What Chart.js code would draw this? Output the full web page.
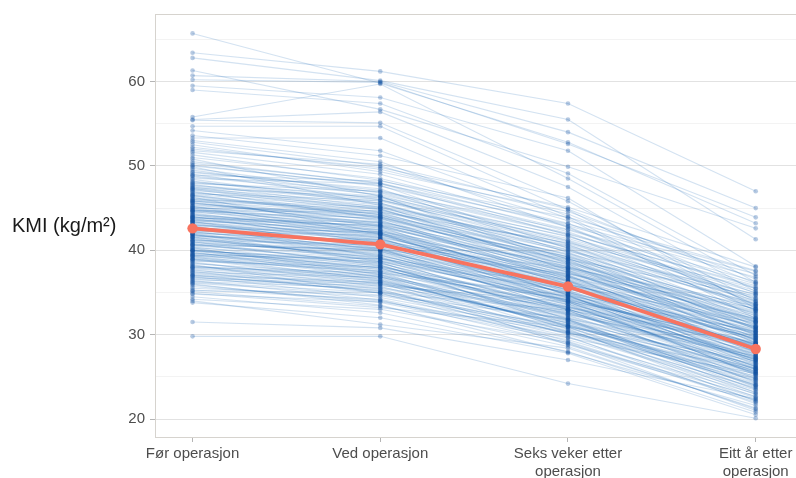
<!DOCTYPE html>
<html>
<head>
<meta charset="utf-8">
<script src="https://cdn.jsdelivr.net/npm/chart.js@4/dist/chart.umd.min.js"></script>
<style>
  html, body { margin: 0; padding: 0; background: #ffffff; overflow: hidden; width: 796px; height: 478px; }
  #wrap { position: relative; width: 840px; height: 478px; }
</style>
</head>
<body>
<div id="wrap"><canvas id="kmiChart" width="840" height="478"></canvas></div>
<script>
// Time points along the x axis
const timeLabels = [
  ["Før operasjon"],
  ["Ved operasjon"],
  ["Seks veker etter", "operasjon"],
  ["Eitt år etter", "operasjon"]
];

// Y axis: labelled ticks and the lighter in-between grid lines
const yMajorTicks = [20, 30, 40, 50, 60];
const yMinorTicks = [25, 35, 45, 55, 65];
const yAxisTitle = "KMI (kg/m²)";

// Group mean BMI at each time point
const meanKmi = [42.6, 40.7, 35.7, 28.3];

// Individual patients' BMI, one value per patient at each time point
const kmiFor = [
  65.7, 63.4, 62.8, 61.3, 60.7, 60.2, 59.5, 59.0, 55.8, 55.5,
  55.4, 54.7, 53.3, 54.2, 53.6, 53.0, 31.5, 29.8, 33.8, 34.0,
  34.2, 34.8, 35.1, 35.5, 35.9, 36.2, 36.4, 36.8, 37.0, 37.3,
  37.5, 37.8, 38.0, 38.2, 38.4, 38.6, 38.8, 39.0, 39.1, 39.3,
  39.5, 39.6, 39.8, 40.0, 40.1, 40.3, 40.4, 40.6, 40.7, 40.9,
  41.0, 41.2, 41.3, 41.5, 41.6, 41.8, 41.9, 42.1, 42.2, 42.4,
  42.5, 42.7, 42.8, 43.0, 43.1, 43.3, 43.4, 43.6, 43.7, 43.9,
  44.0, 44.2, 44.3, 44.5, 44.6, 44.8, 44.9, 45.1, 45.2, 45.4,
  45.6, 45.8, 46.0, 46.2, 46.4, 46.6, 46.9, 47.1, 47.3, 47.6,
  47.8, 48.1, 48.4, 48.7, 49.0, 49.3, 49.7, 50.1, 50.5, 51.0,
  51.6, 52.2, 52.8, 34.5, 35.3, 36.0, 36.6, 37.2, 37.7, 38.1,
  38.5, 38.9, 39.2, 39.4, 39.7, 39.9, 40.2, 40.5, 40.8, 41.1,
  41.4, 41.7, 42.0, 42.3, 42.6, 42.9, 43.2, 43.5, 43.8, 44.1,
  44.4, 44.7, 45.0, 45.3, 45.7, 46.1, 46.5, 46.8, 47.2, 47.7,
  48.2, 48.8, 49.5, 50.3, 51.3, 52.5, 40.0, 41.5, 43.0, 44.0,
  37.9, 36.9, 45.5, 47.5, 42.0, 39.0,
  36.5, 38.3, 40.6, 42.9, 44.7, 46.3, 48.5, 50.8, 35.2, 37.6,
  39.4, 41.9, 43.6, 45.9, 47.9, 49.9, 36.1, 38.7, 40.3, 42.6,
  44.2, 46.7, 49.2, 51.8, 34.9, 37.4, 39.9, 41.2, 43.4, 45.0,
  47.0, 48.9, 35.7, 37.1, 39.6, 41.8, 43.9, 45.6, 47.4, 50.0,
  36.3, 38.0, 40.0, 42.3, 44.8, 46.0, 48.0, 52.0, 39.3, 41.6,
  43.3, 44.6, 46.5, 37.0, 38.9, 40.7, 42.2, 43.8, 45.2, 47.3,
  36.7, 41.0, 43.5, 45.8
];
const kmiVed = [
  59.8, 61.2, 60.1, 56.7, 60.0, 59.9, 58.1, 57.4, 59.7, 56.4,
  55.1, 54.7, 53.3, 51.8, 51.2, 50.5, 30.8, 29.8, 32.0, 31.2,
  33.0, 33.9, 33.4, 34.6, 33.8, 35.0, 34.1, 35.6, 35.2, 36.1,
  34.9, 36.4, 36.9, 35.7, 37.1, 36.0, 37.5, 36.6, 37.8, 38.0,
  37.2, 38.4, 36.8, 38.6, 37.9, 39.0, 38.1, 39.3, 38.5, 39.6,
  38.2, 39.8, 39.1, 40.2, 38.8, 40.5, 39.4, 40.8, 39.9, 41.0,
  40.1, 41.3, 40.4, 41.6, 40.7, 41.9, 41.1, 42.2, 41.4, 42.5,
  41.7, 42.8, 42.0, 43.1, 42.3, 43.4, 42.6, 43.7, 42.9, 44.0,
  43.2, 44.3, 43.5, 44.6, 43.9, 45.0, 44.2, 45.4, 44.8, 45.8,
  45.1, 46.2, 45.6, 46.6, 46.0, 47.1, 46.8, 47.6, 47.9, 48.5,
  49.0, 49.6, 50.0, 32.6, 34.2, 33.5, 35.3, 35.9, 35.4, 37.0,
  36.3, 37.6, 36.5, 38.2, 37.4, 38.9, 37.7, 39.2, 38.3, 39.7,
  38.7, 40.3, 39.5, 40.9, 40.0, 41.5, 40.6, 42.1, 41.2, 42.7,
  41.8, 43.3, 42.4, 43.9, 43.0, 44.4, 44.0, 45.2, 44.5, 46.0,
  45.5, 46.9, 46.5, 48.0, 48.3, 49.3, 37.5, 39.0, 42.0, 40.9,
  36.7, 34.4, 44.1, 44.9, 41.2, 37.3,
  35.8, 34.9, 40.1, 39.2, 44.5, 42.1, 47.9, 46.4, 35.0, 36.2,
  39.0, 38.6, 43.0, 42.8, 47.0, 45.3, 34.7, 38.0, 37.1, 42.2,
  41.5, 45.9, 47.3, 50.2, 33.2, 36.8, 37.9, 40.6, 40.2, 44.7,
  43.8, 48.2, 34.0, 35.1, 38.7, 39.9, 42.9, 43.6, 46.3, 47.7,
  35.5, 37.3, 38.5, 41.8, 42.0, 45.1, 46.4, 49.8, 36.9, 41.3,
  41.0, 43.8, 44.2, 36.2, 36.4, 40.0, 40.2, 43.3, 41.9, 45.6,
  36.0, 39.4, 42.4, 44.9
];
const kmiSeksVeker = [
  52.8, 57.4, 55.5, 49.9, 54.0, 52.6, 51.8, 49.1, 48.5, 47.5,
  45.8, 44.8, 44.0, 43.8, 46.2, 42.7, 27.0, 24.2, 27.8, 28.4,
  29.1, 30.2, 28.6, 31.0, 29.4, 30.8, 28.9, 31.7, 30.1, 32.4,
  29.8, 31.2, 33.0, 30.5, 32.1, 31.4, 33.6, 30.9, 32.8, 34.1,
  31.6, 33.3, 32.0, 34.5, 31.9, 33.8, 32.6, 35.0, 33.1, 34.3,
  32.3, 35.4, 33.9, 34.8, 32.9, 36.0, 34.0, 35.2, 34.6, 36.3,
  33.7, 35.8, 34.9, 36.7, 35.1, 36.1, 35.5, 37.2, 34.7, 36.9,
  35.9, 37.6, 36.4, 38.0, 36.0, 37.9, 36.8, 38.5, 37.0, 38.8,
  37.4, 39.2, 37.7, 39.5, 38.3, 40.1, 38.6, 40.4, 39.0, 40.8,
  39.4, 41.2, 40.0, 41.6, 40.3, 42.0, 41.1, 42.5, 41.8, 43.2,
  42.9, 44.3, 43.5, 28.0, 29.7, 27.9, 30.4, 31.8, 29.2, 31.5,
  30.0, 34.2, 31.1, 32.7, 30.6, 34.0, 33.4, 33.6, 31.3, 34.4,
  33.2, 35.6, 33.5, 36.5, 34.5, 37.0, 34.1, 36.2, 35.3, 38.1,
  35.7, 37.3, 36.6, 39.0, 37.1, 38.7, 37.8, 40.6, 38.2, 41.0,
  39.8, 41.9, 40.7, 42.2, 42.8, 44.6, 32.2, 35.0, 37.5, 34.8,
  31.0, 30.3, 39.6, 39.1, 36.8, 33.2,
  33.9, 29.0, 37.2, 31.8, 40.9, 34.6, 43.1, 38.4, 32.9, 28.8,
  35.9, 30.9, 38.9, 35.2, 42.4, 37.6, 31.9, 33.0, 30.7, 38.4,
  33.9, 41.4, 39.7, 44.9, 30.9, 32.5, 31.7, 37.9, 32.9, 39.9,
  36.5, 43.9, 29.6, 30.2, 35.4, 33.0, 37.8, 36.3, 41.7, 40.2,
  31.4, 34.6, 32.4, 36.9, 35.0, 40.5, 38.9, 45.1, 30.3, 36.4,
  34.3, 38.6, 37.4, 32.6, 31.1, 35.6, 33.8, 39.3, 34.7, 39.2,
  33.3, 34.1, 36.0, 38.0
];
const kmiEittAar = [
  43.2, 47.0, 41.3, 42.6, 45.0, 43.9, 38.1, 37.0, 36.2, 35.1,
  34.0, 33.4, 32.8, 31.9, 33.1, 33.6, 22.4, 20.1, 20.5, 21.3,
  22.0, 24.6, 21.2, 25.3, 23.0, 24.1, 22.7, 26.0, 23.4, 27.2,
  21.8, 24.9, 27.8, 23.6, 25.7, 24.2, 28.4, 22.9, 26.3, 29.0,
  24.5, 27.5, 25.0, 28.1, 23.8, 26.8, 25.9, 29.6, 24.4, 27.0,
  25.5, 30.2, 26.6, 28.7, 24.8, 30.6, 27.3, 28.9, 26.9, 31.0,
  25.6, 29.3, 27.7, 30.4, 26.4, 29.8, 28.0, 31.5, 25.8, 30.0,
  28.5, 31.8, 27.4, 32.3, 28.8, 30.9, 29.1, 32.6, 28.2, 31.2,
  30.3, 33.0, 29.4, 32.0, 30.7, 33.5, 29.9, 33.2, 31.4, 34.3,
  30.8, 34.7, 32.4, 35.2, 31.7, 35.6, 33.8, 36.3, 32.9, 34.9,
  36.8, 35.4, 37.5, 20.8, 22.5, 21.6, 25.1, 24.0, 22.2, 26.5,
  23.2, 28.6, 24.7, 26.1, 22.6, 27.9, 26.2, 25.4, 23.9, 28.3,
  27.1, 29.5, 26.0, 30.1, 28.6, 31.3, 25.2, 29.2, 27.6, 32.1,
  26.7, 30.5, 29.7, 32.8, 28.1, 31.1, 30.2, 34.0, 29.3, 33.3,
  31.6, 35.8, 32.2, 34.4, 33.9, 36.6, 25.7, 29.9, 30.8, 27.2,
  25.5, 23.7, 33.7, 30.0, 31.9, 28.8,
  29.8, 21.0, 33.1, 23.5, 35.5, 26.2, 37.2, 29.0, 28.9, 22.3,
  31.4, 24.0, 34.6, 27.0, 36.0, 28.7, 27.5, 26.6, 22.1, 32.5,
  25.3, 35.0, 30.6, 36.1, 26.9, 27.4, 23.1, 33.4, 24.3, 34.8,
  27.9, 37.6, 25.4, 25.9, 30.3, 26.3, 31.9, 28.4, 34.2, 31.0,
  25.6, 30.4, 27.7, 30.9, 27.3, 33.6, 29.6, 38.0, 24.8, 29.4,
  28.9, 32.7, 30.7, 28.1, 26.0, 28.6, 27.1, 33.0, 26.8, 31.5,
  29.0, 29.1, 29.5, 31.6
];

const columns = [kmiFor, kmiVed, kmiSeksVeker, kmiEittAar];

const patientLine = 'rgba(22, 102, 178, 0.19)';
const patientPoint = 'rgba(16, 78, 158, 0.3)';
const meanColour = '#f8735f';
const fontFamily = '"Liberation Sans", Arial, Helvetica, sans-serif';

const patientDatasets = kmiFor.map((_, p) => ({
  data: columns.map((col, t) => ({ x: t + 1, y: col[p] })),
  borderColor: patientLine,
  borderWidth: 1.1,
  backgroundColor: patientPoint,
  pointBackgroundColor: patientPoint,
  pointBorderWidth: 0,
  pointRadius: 2.3,
  order: 2
}));

const meanDataset = {
  data: meanKmi.map((v, t) => ({ x: t + 1, y: v })),
  borderColor: meanColour,
  borderWidth: 3.8,
  pointBackgroundColor: meanColour,
  pointBorderWidth: 0,
  pointRadius: 5.2,
  order: 0
};

// Frame round the plotting panel and the horizontal y-axis title
const panelDecor = {
  id: 'panelDecor',
  afterDraw(chart) {
    const { ctx, chartArea } = chart;
    ctx.save();
    ctx.strokeStyle = '#d6d3ce';
    ctx.lineWidth = 1;
    ctx.strokeRect(chartArea.left + 0.5, chartArea.top + 0.5,
                   chartArea.right - chartArea.left, chartArea.bottom - chartArea.top);
    ctx.fillStyle = '#1a1a1a';
    ctx.font = '20px ' + fontFamily;
    ctx.textAlign = 'left';
    ctx.textBaseline = 'middle';
    ctx.fillText(yAxisTitle, 12, (chartArea.top + chartArea.bottom) / 2 + 1);
    ctx.restore();
  }
};

new Chart(document.getElementById('kmiChart'), {
  type: 'line',
  data: { datasets: [meanDataset, ...patientDatasets] },
  options: {
    responsive: false,
    animation: false,
    devicePixelRatio: 1,
    events: [],
    layout: { padding: { top: 13, right: 43, bottom: 0, left: 0 } },
    plugins: { legend: { display: false }, tooltip: { enabled: false } },
    elements: { line: { tension: 0 } },
    scales: {
      x: {
        type: 'linear',
        min: 0.8,
        max: 4.22,
        afterBuildTicks: s => { s.ticks = timeLabels.map((_, i) => ({ value: i + 1 })); },
        afterFit: s => { s.height = 41; },
        border: { display: false },
        grid: { drawOnChartArea: false, drawTicks: true, tickLength: 5, color: '#b5b5b5' },
        ticks: {
          callback: v => timeLabels[v - 1],
          autoSkip: false,
          maxRotation: 0,
          padding: 3,
          color: '#4d4d4d',
          font: { family: fontFamily, size: 15, lineHeight: 1.2 }
        }
      },
      y: {
        type: 'linear',
        min: 17.87,
        max: 68.0,
        afterBuildTicks: s => {
          s.ticks = [...yMajorTicks, ...yMinorTicks].sort((a, b) => a - b).map(v => ({ value: v }));
        },
        afterFit: s => { s.width = 155; },
        border: { display: false },
        grid: {
          color: c => (c.tick && yMajorTicks.includes(c.tick.value)) ? '#e2e2e2' : '#f3f3f3',
          tickColor: c => (c.tick && yMajorTicks.includes(c.tick.value)) ? '#b5b5b5' : 'rgba(0,0,0,0)',
          tickLength: 5
        },
        ticks: {
          callback: v => yMajorTicks.includes(v) ? String(v) : '',
          padding: 5,
          color: '#4d4d4d',
          font: { family: fontFamily, size: 15 }
        }
      }
    }
  },
  plugins: [panelDecor]
});
</script>
</body>
</html>
